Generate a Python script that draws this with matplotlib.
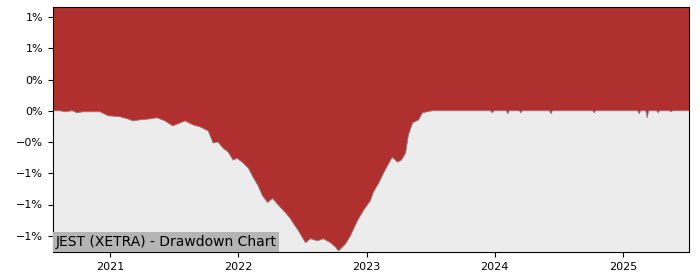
import pandas as pd
import matplotlib
matplotlib.use("Agg")
from matplotlib import pyplot as plt
from matplotlib import dates as mdates
from matplotlib.ticker import FixedLocator, FixedFormatter


# drawdown (fraction below running peak)
dates = [
    "2020-07-22", "2020-08-10", "2020-08-26", "2020-09-15", "2020-09-28", "2020-10-16",
    "2020-11-10", "2020-12-03", "2020-12-26", "2021-01-29", "2021-02-20", "2021-03-07",
    "2021-03-26", "2021-04-24", "2021-05-14", "2021-06-06", "2021-06-28", "2021-08-02",
    "2021-08-25", "2021-09-14", "2021-10-07", "2021-10-21", "2021-11-04", "2021-11-18",
    "2021-12-03", "2021-12-17", "2021-12-28", "2022-01-15", "2022-01-29", "2022-02-12",
    "2022-02-27", "2022-03-10", "2022-03-25", "2022-04-08", "2022-05-01", "2022-05-15",
    "2022-05-29", "2022-06-07", "2022-06-21", "2022-07-11", "2022-07-25", "2022-08-14",
    "2022-08-31", "2022-09-20", "2022-10-04", "2022-10-13", "2022-10-19", "2022-11-02",
    "2022-11-16", "2022-12-06", "2022-12-23", "2023-01-12", "2023-01-20", "2023-02-04",
    "2023-02-18", "2023-03-04", "2023-03-15", "2023-03-30", "2023-04-10", "2023-04-22",
    "2023-04-30", "2023-05-12", "2023-05-29", "2023-06-09", "2023-06-23", "2023-07-07",
    "2023-12-20", "2023-12-25", "2023-12-30", "2024-02-03", "2024-02-07", "2024-02-11",
    "2024-03-11", "2024-03-15", "2024-03-19", "2024-06-05", "2024-06-09", "2024-06-13",
    "2024-10-06", "2024-10-10", "2024-10-14", "2025-02-11", "2025-02-15", "2025-02-19",
    "2025-03-06", "2025-03-10", "2025-03-14", "2025-04-06", "2025-04-10", "2025-04-14",
    "2025-05-13", "2025-05-17", "2025-05-21", "2025-07-07",
]
drawdown = [
    0.0, 0.0, -0.00008, 0.0, -0.00016, -0.00008,
    -0.00008, -0.00008, -0.0004, -0.00048, -0.00065, -0.00081,
    -0.00073, -0.00065, -0.00056, -0.00081, -0.00121, -0.00081,
    -0.00113, -0.00129, -0.00161, -0.00258, -0.0025, -0.00298,
    -0.00331, -0.00395, -0.00379, -0.00419, -0.00458, -0.00532,
    -0.00605, -0.00677, -0.00734, -0.00702, -0.00774, -0.00815,
    -0.00863, -0.00903, -0.00960, -0.01056, -0.01024, -0.0104,
    -0.01024, -0.01056, -0.01089, -0.01121, -0.01105, -0.01065,
    -0.01000, -0.00879, -0.00798, -0.00718, -0.00653, -0.00581,
    -0.005, -0.00427, -0.00371, -0.00411, -0.00395, -0.00339,
    -0.00194, -0.00097, -0.00073, -0.00016, -0.00008, 0.0,
    0.0, -0.00016, 0.0, 0.0, -0.00024, 0.0,
    0.0, -0.00016, 0.0, 0.0, -0.00024, 0.0,
    0.0, -0.00016, 0.0, 0.0, -0.00024, 0.0,
    0.0, -0.00056, 0.0, 0.0, -0.00016, 0.0,
    0.0, -0.00008, 0.0, 0.0,
]

tick_values = [0.0075, 0.005, 0.0025, 0.0, -0.0025, -0.005, -0.0075, -0.01]
tick_labels = ["1%", "1%", "0%", "0%", "\u22120%", "\u22121%", "\u22121%", "\u22121%"]

df = pd.DataFrame({"date": pd.to_datetime(dates), "dd": drawdown})

fig = plt.figure(figsize=(7, 2.8), dpi=100)
ax = fig.add_axes([0.0757, 0.1, 0.9086, 0.875])
ax.set_facecolor("#ececec")

top = 0.0083
bottom = -0.0113
ax.fill_between(df["date"], df["dd"], top + 0.01, color="#b03030", linewidth=0)
ax.plot(df["date"], df["dd"], color="#808080", linewidth=0.6)

ax.set_ylim(bottom, top)
ax.set_xlim(df["date"].iloc[0], df["date"].iloc[-1])
ax.xaxis.set_major_locator(mdates.YearLocator())
ax.xaxis.set_major_formatter(mdates.DateFormatter("%Y"))
ax.yaxis.set_major_locator(FixedLocator(tick_values))
ax.yaxis.set_major_formatter(FixedFormatter(tick_labels))
ax.tick_params(labelsize=8)

ax.text(0.004, 0.012, "JEST (XETRA) - Drawdown Chart", transform=ax.transAxes,
        fontsize=10, ha="left", va="bottom",
        bbox=dict(facecolor="#b4b4b4", edgecolor="none", boxstyle="square,pad=0.2"))

fig.savefig("out.png", dpi=100)
